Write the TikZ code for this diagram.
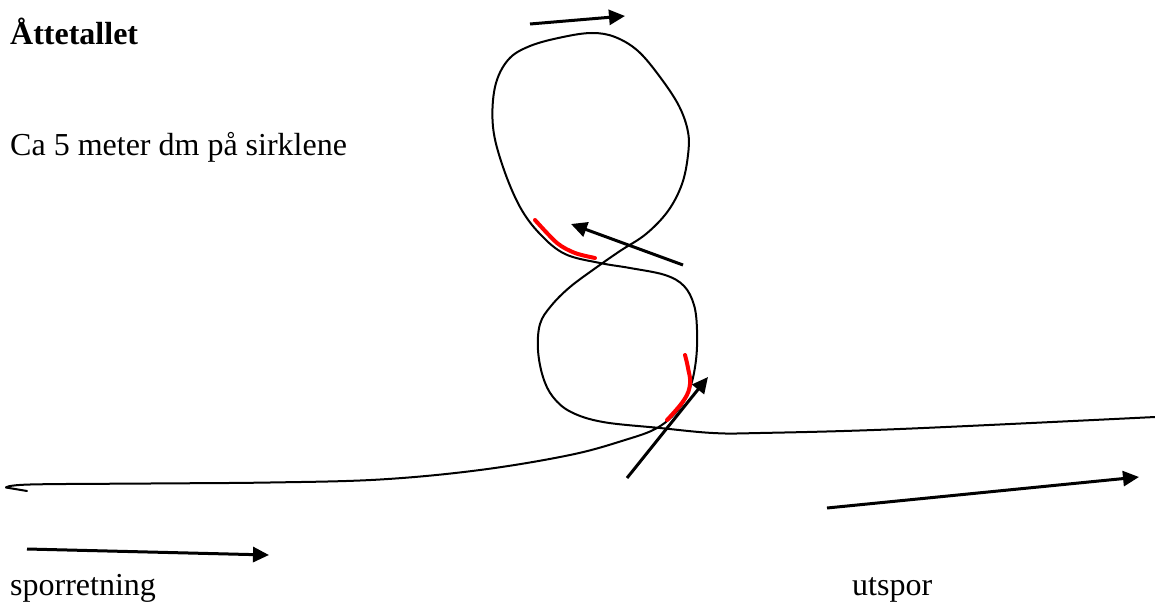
\documentclass[tikz,border=0pt]{standalone}
\usepackage{fontspec}
\setmainfont{Liberation Serif}
\usetikzlibrary{arrows.meta}
\tikzset{
  track/.style={line width=2pt, line cap=round, line join=round},
  mark red/.style={red, line width=4pt, line cap=round, line join=round},
  dirarrow/.style={line width=3pt, -{Triangle[length=16pt,width=15pt]}},
  label/.style={anchor=base west, inner sep=0pt, font=\fontsize{32}{38}\selectfont},
}
\begin{document}
\begin{tikzpicture}[x=1pt,y=-1pt]
\useasboundingbox (0,0) rectangle (1155,607);
% texts
\node[label, font=\fontsize{32}{38}\selectfont\bfseries] (title) at (10,45) {Åttetallet};
\node[label] (dm) at (10,155) {Ca 5 meter dm på sirklene};
\node[label] (spor) at (10,595) {sporretning};
\node[label] (ut) at (852,595) {utspor};
% hook at left end
\draw[track] (27,491) -- (6,487.5);
% main figure-eight track
\draw[track] plot[smooth, tension=0.6] coordinates {
 (6,487.5) (30,484.5) (150,483.5) (270,482.5) (380,479.5) (480,470) (570,455)
 (625,440) (657,428) (678,410) (690,388) (696,360) (697,330) (694,305)
 (684,286) (665,275) (630,268) (600,263) (565,254) (540,234) (520,207)
 (503,167) (493,127) (495,87) (508,60) (530,46) (563,37) (592,33) (615,37)
 (638,51) (660,77) (679,106) (688,132) (688,155) (682,184) (668,211)
 (646,234) (620,251) (597,267) (570,287) (551,306) (540,324) (538,350)
 (543,377) (553,397) (571,412) (603,422) (660,428) (713,433) (760,433)
 (900,429) (1155,417)};
% red marks
\draw[mark red] plot[smooth] coordinates {(535,220) (557,243) (575,253) (595,258)};
\draw[mark red] plot[smooth, tension=0.7] coordinates {(685,355) (688,368) (690,384) (684,400) (667,420)};
% direction arrows
\coordinate (a1s) at (530,24);   \coordinate (a1e) at (625,16);
\coordinate (a2s) at (683,265);  \coordinate (a2e) at (571,224);
\coordinate (a3s) at (627,478);  \coordinate (a3e) at (708,377);
\coordinate (a4s) at (27,549);   \coordinate (a4e) at (269,555);
\coordinate (a5s) at (827,508);  \coordinate (a5e) at (1139,477);
\draw[dirarrow] (a1s) -- (a1e);
\draw[dirarrow] (a2s) -- (a2e);
\draw[dirarrow] (a3s) -- (a3e);
\draw[dirarrow] (a4s) -- (a4e);
\draw[dirarrow] (a5s) -- (a5e);
\end{tikzpicture}
\end{document}
